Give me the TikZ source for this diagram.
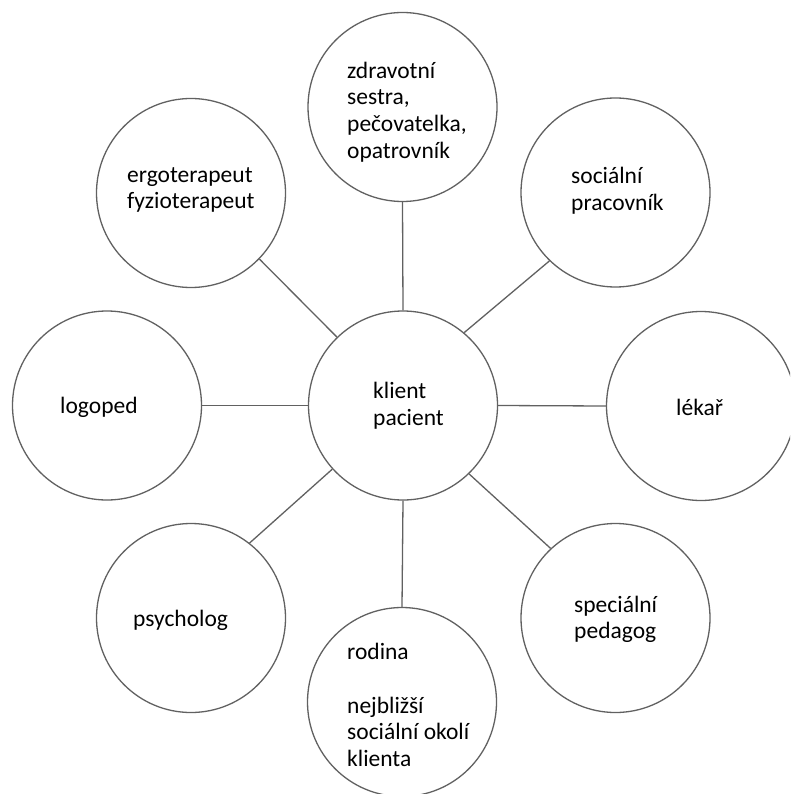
\documentclass[tikz,border=0pt]{standalone}
\usepackage{fontspec}
\setmainfont{Carlito}
\begin{document}
\begin{tikzpicture}[x=1pt,y=-1pt,
  role/.style={circle,draw=black!62,line width=1.3pt,minimum size=189pt,inner sep=0pt},
  txt/.style={anchor=west,align=left,inner sep=0pt,text=black,
    font=\fontsize{23.5}{26.7}\selectfont},
  link/.style={draw=black!62,line width=1.3pt}]
\clip (0,0) rectangle (790,794);
\fill[white] (0,0) rectangle (790,794);
% circles
\node[role] (c)    at (403,405.5) {};
\node[role] (top)  at (402.5,107) {};
\node[role] (ergo) at (191,193) {};
\node[role] (soc)  at (615.5,192.5) {};
\node[role] (logo) at (107,405.5) {};
\node[role] (lek)  at (701,406) {};
\node[role] (psy)  at (191,618) {};
\node[role] (spec) at (615.5,618) {};
\node[role] (rod)  at (402,702) {};
% texts
\node[txt] (tTop)  at (347,112) {zdravotní\\sestra,\\pečovatelka,\\opatrovník};
\node[txt] (tErgo) at (127,190) {ergoterapeut\\fyzioterapeut};
\node[txt] (tSoc)  at (571,191) {sociální\\pracovník};
\node[txt] (tC)    at (373,405.5) {klient\\pacient};
\node[txt] (tLogo) at (60,407) {logoped};
\node[txt] (tLek)  at (676,407) {lékař};
\node[txt] (tPsy)  at (133,620) {psycholog};
\node[txt] (tSpec) at (574,619.5) {speciální\\pedagog};
\node[txt] (tRod)  at (347,705) {rodina\\\mbox{}\\nejbližší\\sociální okolí\\klienta};
% connectors
\draw[link] (top.south) -- (c.north);
\draw[link] (ergo.316) -- (c.134);
\draw[link] (soc.226) -- (c.50);
\draw[link] (logo.east) -- (c.west);
\draw[link] (c.east) -- (lek.west);
\draw[link] (psy.52) -- (c.222);
\draw[link] (c.314) -- (spec.133);
\draw[link] (c.south) -- (rod.north);
\end{tikzpicture}
\end{document}
